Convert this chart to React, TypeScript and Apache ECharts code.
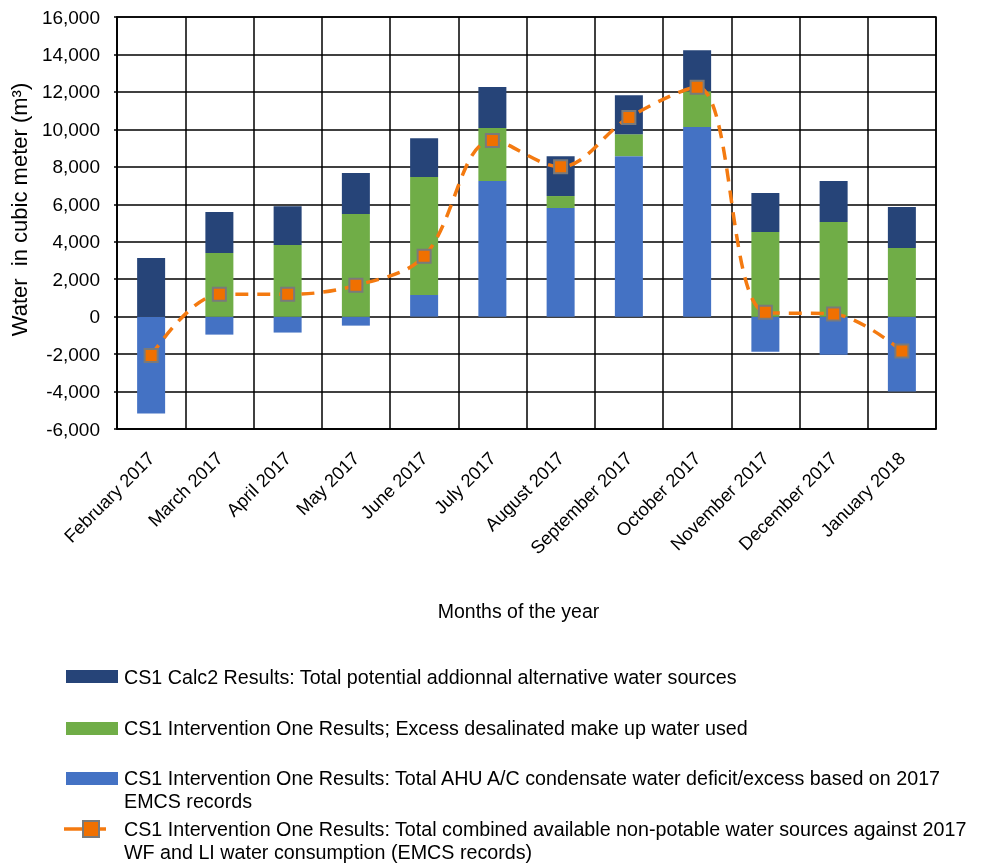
import React, { useEffect, useRef } from "react";
import * as echarts from "echarts";

const months = [
  "February 2017", "March 2017", "April 2017", "May 2017", "June 2017", "July 2017",
  "August 2017", "September 2017", "October 2017", "November 2017", "December 2017", "January 2018",
];
const condensate = [-5170, -960, -850, -480, 1160, 7240, 5800, 8570, 10120, -1870, -2040, -4000];
const desalinated = [0, 3400, 3820, 5480, 6290, 2830, 640, 1170, 1920, 4520, 5050, 3660];
const calc2 = [3130, 2190, 2080, 2190, 2080, 2190, 2130, 2080, 2190, 2080, 2190, 2190];
const combined = [-2080, 1190, 1190, 1670, 3220, 9410, 8000, 10630, 12250, 230, 140, -1830];
const yTicks = { min: -6000, max: 16000, interval: 2000 };

const names = [
  "CS1 Calc2 Results: Total potential addionnal alternative water sources",
  "CS1 Intervention One Results; Excess desalinated make up water used",
  "CS1 Intervention One Results: Total AHU A/C condensate water deficit/excess based on 2017\nEMCS records",
  "CS1 Intervention One Results: Total combined available non-potable water sources against 2017\nWF and LI water consumption (EMCS records)",
];
const colors = { calc2: "#264478", desal: "#70AD47", cond: "#4472C4", line: "#F47A10" };

const FONT = "'Liberation Sans', Arial, sans-serif";

export default function App() {
  const ref = useRef<HTMLDivElement>(null);
  useEffect(() => {
    if (!ref.current) return;
    const chart = echarts.init(ref.current, null, { renderer: "svg" });
    const legendText = (y: number, text: string) => ({
      type: "text",
      left: 124,
      top: y,
      style: { text, font: `19.7px ${FONT}`, fill: "#000", lineHeight: 23 },
    });
    chart.setOption({
      animation: false,
      textStyle: { fontFamily: FONT },
      grid: { left: 117, right: 46, top: 17, bottom: 435, show: true, borderColor: "#000", borderWidth: 1.5 },
      xAxis: {
        type: "category",
        data: months,
        boundaryGap: true,
        axisLine: { onZero: false, lineStyle: { color: "#000", width: 1.5 } },
        axisTick: { show: false },
        splitLine: { show: true, lineStyle: { color: "#000", width: 1.5 } },
        axisLabel: { rotate: 45, fontSize: 18.3, color: "#000", margin: 26, interval: 0, fontFamily: FONT },
        name: "Months of the year",
        nameLocation: "middle",
        nameGap: 172,
        nameTextStyle: { fontSize: 19.5, color: "#000", fontFamily: FONT, padding: [0, 16, 0, 0] },
      },
      yAxis: {
        type: "value",
        min: yTicks.min,
        max: yTicks.max,
        interval: yTicks.interval,
        axisLine: { show: true, lineStyle: { color: "#000", width: 1.5 } },
        axisTick: { show: true, length: 3, lineStyle: { color: "#000", width: 1.5 } },
        splitLine: { show: true, lineStyle: { color: "#000", width: 1.5 } },
        axisLabel: {
          fontSize: 19,
          color: "#000",
          margin: 17,
          fontFamily: FONT,
          formatter: (v: number) => v.toLocaleString("en-US"),
        },
        name: "Water  in cubic meter (m³)",
        nameLocation: "middle",
        nameGap: 80,
        nameTextStyle: { fontSize: 22, color: "#000", fontFamily: FONT, padding: [0, 0, 0, 27] },
      },
      series: [
        {
          name: names[2],
          type: "bar",
          stack: "total",
          barWidth: 28,
          data: condensate,
          itemStyle: { color: colors.cond },
        },
        {
          name: names[1],
          type: "bar",
          stack: "total",
          barWidth: 28,
          data: desalinated,
          itemStyle: { color: colors.desal },
        },
        {
          name: names[0],
          type: "bar",
          stack: "total",
          barWidth: 28,
          data: calc2,
          itemStyle: { color: colors.calc2 },
        },
        {
          name: names[3],
          type: "line",
          smooth: 0.35,
          data: combined,
          symbol: "rect",
          symbolSize: 13,
          lineStyle: { color: colors.line, width: 3.5, type: [13, 9] },
          itemStyle: { color: "#F07000", borderColor: "#7A7A7A", borderWidth: 2 },
          z: 5,
        },
      ],
      graphic: [
        { type: "rect", shape: { x: 66, y: 670, width: 52, height: 13 }, style: { fill: colors.calc2 } },
        legendText(665.5, names[0]),
        { type: "rect", shape: { x: 66, y: 722, width: 52, height: 13 }, style: { fill: colors.desal } },
        legendText(716.5, names[1]),
        { type: "rect", shape: { x: 66, y: 772, width: 52, height: 13 }, style: { fill: colors.cond } },
        legendText(766.5, names[2]),
        { type: "line", shape: { x1: 64, y1: 829, x2: 106, y2: 829 }, style: { stroke: colors.line, lineWidth: 3.5 } },
        { type: "rect", shape: { x: 83, y: 821, width: 16, height: 16 }, style: { fill: "#F07000", stroke: "#7A7A7A", lineWidth: 2 } },
        legendText(817.5, names[3]),
      ],
    });
    return () => chart.dispose();
  }, []);
  return <div ref={ref} style={{ position: "fixed", left: 0, top: 0, width: 982, height: 864 }} />;
}
